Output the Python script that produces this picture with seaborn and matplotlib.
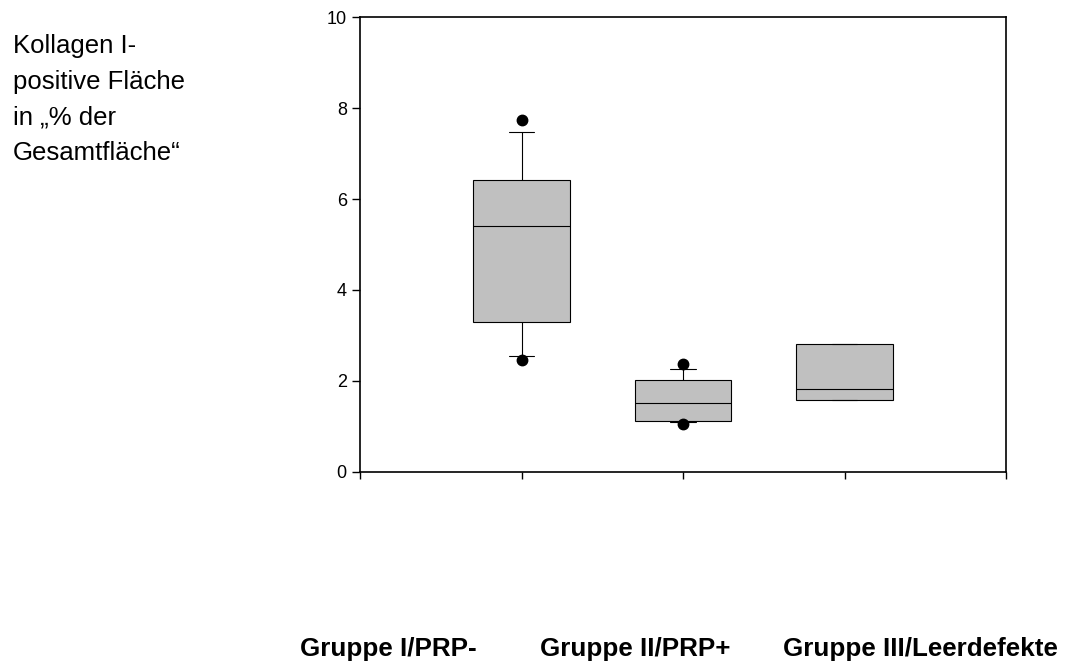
import matplotlib
matplotlib.use('Agg')
import matplotlib.pyplot as plt
import seaborn as sns

# Box summary values (5th/95th percentile dots)
groups = ['Gruppe I/PRP-', 'Gruppe II/PRP+', 'Gruppe III/Leerdefekte']
q1 = [3.29, 1.12, 1.57]
median = [5.40, 1.52, 1.81]
q3 = [6.41, 2.02, 2.82]
whisker_low = [2.54, 1.09, 1.57]
whisker_high = [7.47, 2.27, 2.82]
fliers = [[2.45, 7.73], [1.05, 2.38], []]
y_ticks = [0, 2, 4, 6, 8, 10]

ylabel_lines = ['Kollagen I-', 'positive Fläche', 'in \u201e% der', 'Gesamtfläche\u201c']

sns.set_style('ticks')
plt.rcParams['font.family'] = ['Liberation Sans', 'DejaVu Sans']

fig = plt.figure(figsize=(10.66, 6.64), dpi=100)
ax = fig.add_axes([360 / 1066, 1 - 471.7 / 664, 646 / 1066, (471.7 - 17.3) / 664])

stats = []
for i in range(len(groups)):
    stats.append({
        'label': groups[i],
        'q1': q1[i], 'med': median[i], 'q3': q3[i],
        'whislo': whisker_low[i], 'whishi': whisker_high[i],
        'fliers': fliers[i],
    })

ax.bxp(stats, positions=[1, 2, 3], widths=0.6, capwidths=0.16,
       patch_artist=True, showfliers=True,
       boxprops=dict(facecolor='#c0c0c0', edgecolor='black', linewidth=0.8),
       medianprops=dict(color='black', linewidth=0.8),
       whiskerprops=dict(color='black', linewidth=0.8),
       capprops=dict(color='black', linewidth=0.8),
       flierprops=dict(marker='o', markerfacecolor='black', markeredgecolor='black',
                       markersize=7.5))

ax.set_xlim(0, 4)
ax.set_ylim(0, 10)
ax.set_yticks(y_ticks)
ax.set_xticks([0, 1, 2, 3, 4])
ax.set_xticklabels([])
ax.tick_params(axis='y', direction='out', length=5.5, width=1, labelsize=13, pad=4, colors='black')
ax.tick_params(axis='x', direction='out', length=5, width=1, colors='black')
for s in ax.spines.values():
    s.set_visible(True)
    s.set_color('black')
    s.set_linewidth(1.2)

# y label as free text to the left
for k, line in enumerate(ylabel_lines):
    fig.text(12.7 / 1066, 1 - (53.3 + k * 35.5) / 664, line, fontsize=18.5,
             ha='left', va='baseline', color='black')

# group labels at the bottom
label_x = [300, 540, 783]
for x, g in zip(label_x, groups):
    fig.text(x / 1066, 1 - 655.7 / 664, g, fontsize=18.7, fontweight='bold',
             ha='left', va='baseline', color='black')

fig.savefig('out.png', dpi=100)
